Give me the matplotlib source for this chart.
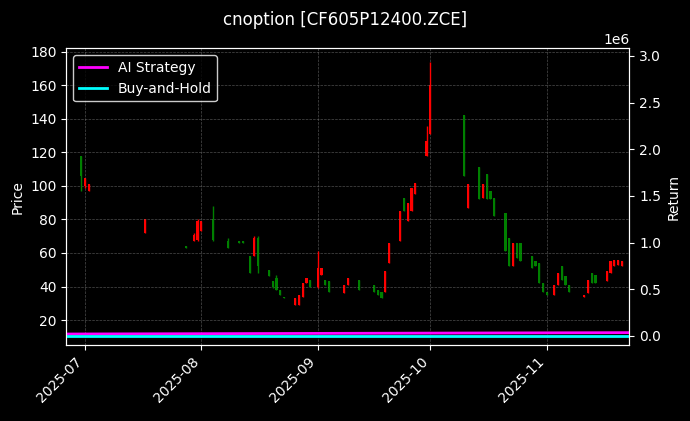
import matplotlib
matplotlib.use("Agg")
import matplotlib.pyplot as plt
import matplotlib.dates as mdates
import pandas as pd
import numpy as np

dates = ["2025-06-30","2025-07-01","2025-07-02","2025-07-17","2025-07-28","2025-07-30","2025-07-31","2025-08-01",
 "2025-08-04","2025-08-08","2025-08-11","2025-08-12","2025-08-14","2025-08-15","2025-08-16","2025-08-19","2025-08-20",
 "2025-08-21","2025-08-22","2025-08-23","2025-08-26","2025-08-27","2025-08-28","2025-08-29","2025-08-30","2025-09-01",
 "2025-09-02","2025-09-03","2025-09-04","2025-09-08","2025-09-09","2025-09-12","2025-09-16","2025-09-17","2025-09-18",
 "2025-09-19","2025-09-20","2025-09-23","2025-09-24","2025-09-25","2025-09-26","2025-09-27","2025-09-30","2025-10-01",
 "2025-10-10","2025-10-11","2025-10-14","2025-10-15","2025-10-16","2025-10-17","2025-10-18","2025-10-21","2025-10-22",
 "2025-10-23","2025-10-24","2025-10-25","2025-10-28","2025-10-29","2025-10-30","2025-10-31","2025-11-01","2025-11-03",
 "2025-11-04","2025-11-05","2025-11-06","2025-11-07","2025-11-11","2025-11-12","2025-11-13","2025-11-14","2025-11-17",
 "2025-11-18","2025-11-19","2025-11-20","2025-11-21"]
opens  = [118,100,97,72,64,67,68,73,80,67,67,67,58,58,69,50,43,45,38,34,29,29,34,42,44,40,47,44,43,36,41,44,41,38,37,
          37,54,67,93,79,85,95,118,131,142,87,111,93,107,97,93,84,69,52,66,66,58,55,54,42,37,35,41,52,46,41,34,36,48,47,43,48,52,53,52]
closes = [106,105,101,80,63,71,79,79,68,63,66,66,48,69,52,46,40,38,35,33,33,35,42,45,40,51,51,41,37,41,45,38,37,35,33,
          49,66,85,85,90,99,102,127,160,106,101,92,101,92,92,82,61,52,66,57,55,51,52,42,37,35,41,48,44,41,37,35,44,42,42,49,55,56,56,55]
highs  = [118,105,101,80,64,72,80,79,88,69,67,67,58,70,70,50,43,47,38,34,33,35,42,45,44,61,51,44,43,41,45,44,41,38,37,
          49,66,85,93,90,99,102,136,174,142,101,111,101,107,97,93,84,69,66,66,66,58,55,54,42,37,41,48,52,46,41,35,44,48,47,49,55,56,56,55]
lows   = [97,99,97,72,63,67,67,73,67,63,66,66,48,58,48,46,39,38,35,33,29,29,34,42,40,39,47,41,37,36,41,38,37,35,33,
          37,54,67,85,79,85,95,118,131,106,87,92,93,92,92,82,61,52,52,57,55,51,52,42,37,35,35,41,44,41,37,34,36,42,42,43,48,52,53,52]

ret_dates = ["2025-06-26","2025-11-24"]
ai_return = [20000, 35000]
bh_return = [0, 0]

d = mdates.date2num(pd.to_datetime(dates))
fig = plt.figure(figsize=(6.9, 4.21), dpi=100, facecolor="black")
ax = fig.add_axes([0.096, 0.18, 0.816, 0.705])
ax.set_facecolor("black")
for xi, o, c, h, l in zip(d, opens, closes, highs, lows):
    col = "red" if c >= o else "green"
    ax.vlines(xi, l, h, color=col, linewidth=1)
    ax.bar(xi, abs(c - o) or 0.5, bottom=min(o, c), width=0.6, color=col)
ax.set_ylim(5, 182)
ax.xaxis.set_major_locator(mdates.MonthLocator())
ax.xaxis.set_major_formatter(mdates.DateFormatter("%Y-%m"))
plt.setp(ax.get_xticklabels(), rotation=45, ha="right")
ax.grid(True, color="gray", linestyle="--", linewidth=0.5, alpha=0.6)
ax.set_ylabel("Price", color="white")
for s in ax.spines.values():
    s.set_color("white")
ax.tick_params(colors="white")

ax2 = ax.twinx()
rd = pd.to_datetime(ret_dates)
l1, = ax2.plot(rd, ai_return, color="magenta", linewidth=2, label="AI Strategy")
l2, = ax2.plot(rd, bh_return, color="cyan", linewidth=2, label="Buy-and-Hold")
ax2.set_ylim(-0.1e6, 3.08e6)
ax2.set_ylabel("Return", color="white")
ax2.tick_params(colors="white")
ax2.yaxis.get_offset_text().set_color("white")
for s in ax2.spines.values():
    s.set_color("white")
ax.legend(handles=[l1, l2], loc="upper left", facecolor="black", edgecolor="white", labelcolor="white")
ax.set_xlim(mdates.date2num(pd.Timestamp("2025-06-26")), mdates.date2num(pd.Timestamp("2025-11-23")))
fig.suptitle("cnoption [CF605P12400.ZCE]", color="white", y=0.975)
fig.savefig("out.png", facecolor="black")
